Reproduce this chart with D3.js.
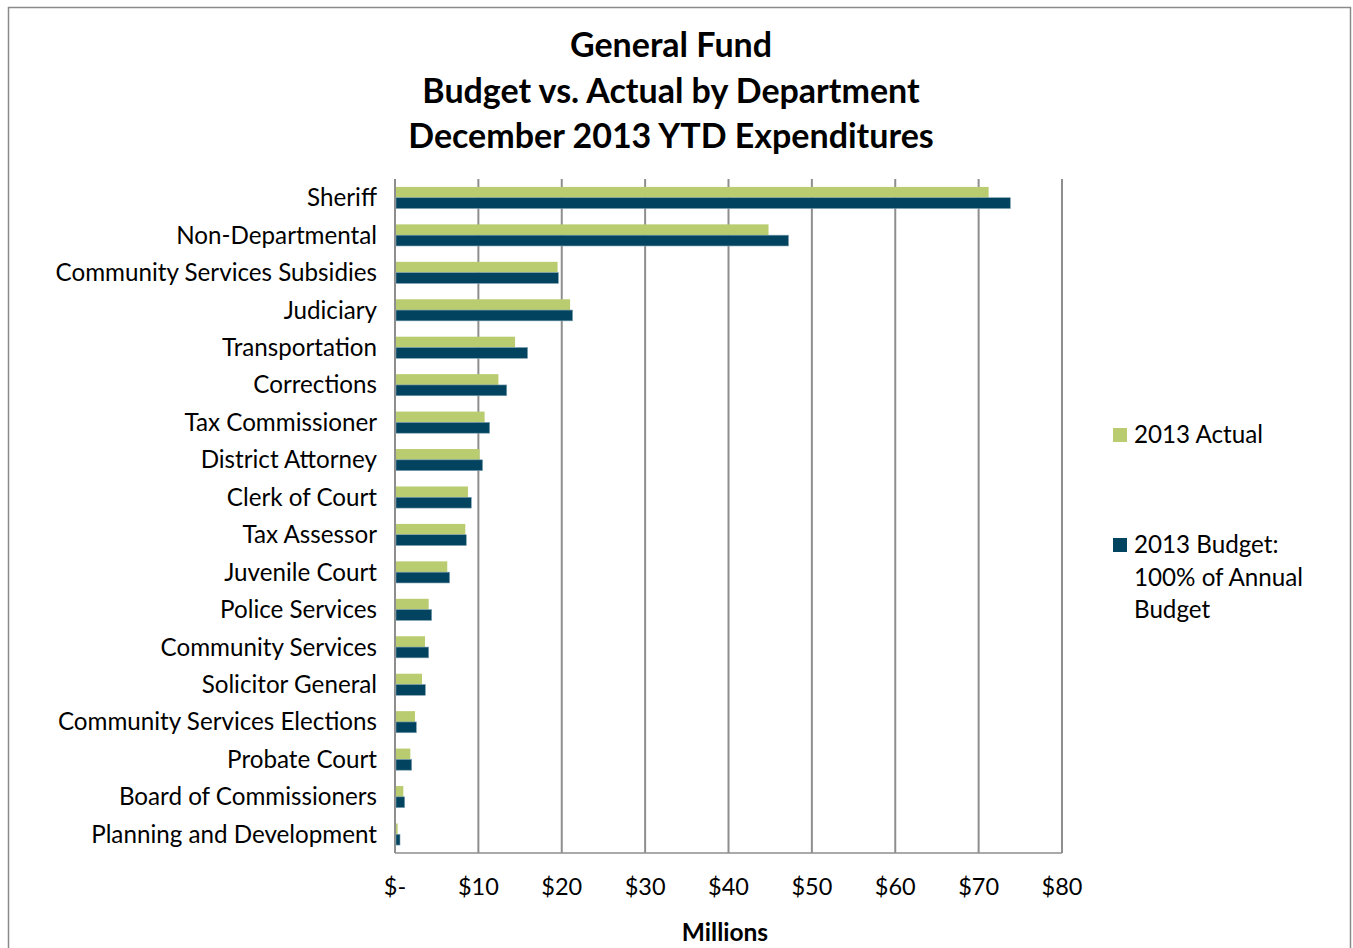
<!DOCTYPE html>
<html>
<head>
<meta charset="utf-8">
<script src="https://cdn.jsdelivr.net/npm/d3@7"></script>
<style>
  html, body { margin: 0; padding: 0; background: #fff; }
  svg { display: block; }
  text { font-family: Lato, "Open Sans", sans-serif; fill: #000; }
</style>
</head>
<body>
<svg id="chart" width="1353" height="948"></svg>
<script>
// Departments, top to bottom
const departments = [
  "Sheriff", "Non-Departmental", "Community Services Subsidies", "Judiciary",
  "Transportation", "Corrections", "Tax Commissioner", "District Attorney",
  "Clerk of Court", "Tax Assessor", "Juvenile Court", "Police Services",
  "Community Services", "Solicitor General", "Community Services Elections",
  "Probate Court", "Board of Commissioners", "Planning and Development"
];
// YTD expenditures, $ millions
const actual2013 = [71.2, 44.8, 19.5, 21.0, 14.4, 12.4, 10.75, 10.15, 8.75, 8.43, 6.27, 4.04, 3.6, 3.24, 2.4, 1.84, 1.0, 0.32];
// Annual budget, $ millions
const budget2013 = [73.8, 47.2, 19.6, 21.3, 15.9, 13.4, 11.35, 10.5, 9.15, 8.55, 6.55, 4.4, 4.04, 3.64, 2.56, 2.0, 1.16, 0.6];
const xTicks = [0, 10, 20, 30, 40, 50, 60, 70, 80];
const titleLines = ["General Fund", "Budget vs. Actual by Department", "December 2013 YTD Expenditures"];
const seriesNames = ["2013 Actual", "2013 Budget:"];
const budgetLegendLines = ["2013 Budget:", "100% of Annual", "Budget"];

const colors = { actual: "#B9CD70", budget: "#02445F", grid: "#8E8E8E" };

const svg = d3.select("#chart");

// outer frame
svg.append("rect")
  .attr("x", 8.5).attr("y", 7.5).attr("width", 1342).attr("height", 960)
  .attr("fill", "none").attr("stroke", "#8a8a8a").attr("stroke-width", 1.5);

// title
svg.append("g").selectAll("text").data(titleLines).join("text")
  .attr("x", 671).attr("y", (d, i) => 57 + i * 45.5)
  .attr("text-anchor", "middle")
  .attr("font-size", 34).attr("font-weight", "bold")
  .text(d => d);

const plot = { left: 395, right: 1062, top: 179, bottom: 853 };

const x = d3.scaleLinear().domain([0, 80]).range([plot.left, plot.right]);
const y = d3.scaleBand().domain(departments).range([plot.top, plot.bottom]).paddingInner(0).paddingOuter(0);
const inner = d3.scaleBand().domain(["actual", "budget"]).range([0, 21.6])
  .paddingInner(0).paddingOuter(0);
const groupOffset = (y.bandwidth() - 21.6) / 2;

// vertical gridlines
svg.append("g").selectAll("line").data(xTicks).join("line")
  .attr("x1", d => x(d)).attr("x2", d => x(d))
  .attr("y1", plot.top).attr("y2", plot.bottom)
  .attr("stroke", colors.grid).attr("stroke-width", 2);

// bottom axis line
svg.append("line")
  .attr("x1", plot.left).attr("x2", plot.right)
  .attr("y1", plot.bottom).attr("y2", plot.bottom)
  .attr("stroke", colors.grid).attr("stroke-width", 1.5);

// bars
const rows = departments.map((d, i) => ({ dept: d, actual: actual2013[i], budget: budget2013[i] }));
const groups = svg.append("g").selectAll("g").data(rows).join("g")
  .attr("transform", d => `translate(0,${y(d.dept) + groupOffset})`);

groups.append("rect")
  .attr("x", x(0) + 1).attr("y", inner("actual"))
  .attr("width", d => x(d.actual) - x(0) - 1).attr("height", inner.bandwidth())
  .attr("fill", colors.actual);

groups.append("rect")
  .attr("x", x(0) + 1).attr("y", inner("budget"))
  .attr("width", d => x(d.budget) - x(0) - 1).attr("height", inner.bandwidth())
  .attr("fill", colors.budget)
  .attr("stroke", "#7E9FB0").attr("stroke-width", 0.6);

// category labels
svg.append("g").selectAll("text").data(departments).join("text")
  .attr("x", 377).attr("y", d => y(d) + y.bandwidth() / 2)
  .attr("dy", "0.35em")
  .attr("text-anchor", "end")
  .attr("font-size", 24.2)
  .text(d => d);

// x tick labels
const fmt = v => v === 0 ? "$-" : "$" + v;
svg.append("g").selectAll("text").data(xTicks).join("text")
  .attr("x", d => x(d)).attr("y", 895)
  .attr("text-anchor", "middle")
  .attr("font-size", 23.5)
  .text(fmt);

// axis title
svg.append("text")
  .attr("x", 725).attr("y", 941)
  .attr("text-anchor", "middle")
  .attr("font-size", 24.5).attr("font-weight", "bold")
  .text("Millions");

// legend
const legend = svg.append("g");
legend.append("rect").attr("x", 1113).attr("y", 428).attr("width", 14).attr("height", 14).attr("fill", colors.actual);
legend.append("text").attr("x", 1134).attr("y", 435).attr("dy", "0.35em").attr("font-size", 24.2).text(seriesNames[0]);
legend.append("rect").attr("x", 1113).attr("y", 538).attr("width", 14).attr("height", 14).attr("fill", colors.budget);
legend.append("g").selectAll("text").data(budgetLegendLines).join("text")
  .attr("x", 1134).attr("y", (d, i) => 545 + i * 32.5).attr("dy", "0.35em")
  .attr("font-size", 24.2)
  .text(d => d);
</script>
</body>
</html>
